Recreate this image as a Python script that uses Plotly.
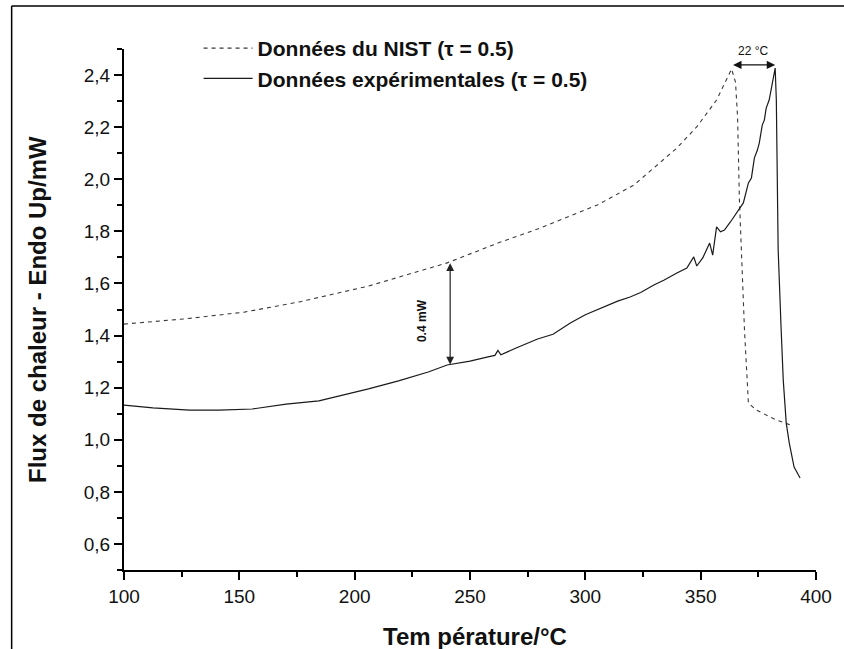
import numpy as np
import plotly.graph_objects as go

# ---- data ----
nist_T = [100, 126.3, 152.2, 175.9, 206.0, 240.1, 262.1, 279.3, 305.2, 321.1, 339.7,
          348.3, 356.9, 363.4, 365.1, 366.0, 366.8, 367.7, 369.0, 370.7, 374.1, 382.8, 390.1]
nist_flux = [1.444, 1.464, 1.490, 1.529, 1.590, 1.679, 1.755, 1.809, 1.901, 1.978, 2.120,
             2.201, 2.304, 2.423, 2.373, 2.239, 1.920, 1.728, 1.421, 1.141, 1.114, 1.076, 1.053]

exp_T = [100, 112.5, 128.4, 141.4, 155.6, 170.3, 184.5, 198.7, 206.0, 219.0, 231.9, 240.1,
         250.0, 257.8, 260.8, 262.1, 263.4, 270.0, 279.3, 286.0, 293.5, 300.0, 308.2, 314.0,
         319.4, 324.0, 329.7, 334.0, 339.7, 344.0, 347.0, 348.3, 350.9, 352.6, 353.9, 355.2,
         356.9, 358.6, 360.3, 362.9, 365.5, 368.5, 370.7, 372.0, 373.3, 374.6, 375.4, 376.7,
         377.6, 378.4, 379.7, 380.6, 381.5, 382.3, 382.8, 383.6, 384.9, 385.8, 387.1, 388.4,
         390.5, 393.1]
exp_flux = [1.133, 1.122, 1.114, 1.114, 1.118, 1.137, 1.149, 1.179, 1.195, 1.226, 1.260, 1.287,
            1.302, 1.318, 1.324, 1.343, 1.326, 1.352, 1.387, 1.405, 1.448, 1.480, 1.510, 1.532,
            1.548, 1.565, 1.594, 1.612, 1.640, 1.659, 1.702, 1.667, 1.698, 1.728, 1.755, 1.709,
            1.817, 1.798, 1.805, 1.836, 1.870, 1.909, 1.986, 2.005, 2.082, 2.112, 2.139, 2.208,
            2.227, 2.273, 2.304, 2.350, 2.389, 2.427, 2.304, 1.728, 1.421, 1.229, 1.064, 0.988,
            0.895, 0.853]

x_ticks = [100, 150, 200, 250, 300, 350, 400]
y_ticks = [0.6, 0.8, 1.0, 1.2, 1.4, 1.6, 1.8, 2.0, 2.2, 2.4]

name_nist = "Données du NIST (τ = 0.5)"
name_exp = "Données expérimentales (τ = 0.5)"
x_title = "Tem pérature/°C"
y_title = "Flux de chaleur - Endo Up/mW"
shift_label = "22 °C"
gap_label = "0.4 mW"
gap_T = 241.4  # temperature where the 0.4 mW gap arrow is drawn

FONT = "Liberation Sans, Arial, sans-serif"

fig = go.Figure()
fig.add_trace(go.Scatter(x=nist_T, y=nist_flux, mode="lines", name=name_nist,
                         line=dict(color="#3a3a3a", width=1.1, dash="4px,4px")))
fig.add_trace(go.Scatter(x=exp_T, y=exp_flux, mode="lines", name=name_exp,
                         line=dict(color="#1a1a1a", width=1.2)))

# peak positions from the data
i_n = int(np.argmax(nist_flux))
i_e = int(np.argmax(exp_flux))
peak_y = max(nist_flux[i_n], exp_flux[i_e]) + 0.012

# 22 °C double arrow
fig.add_annotation(x=exp_T[i_e], y=peak_y, ax=nist_T[i_n], ay=peak_y,
                   xref="x", yref="y", axref="x", ayref="y", text="",
                   showarrow=True, arrowside="end+start", arrowhead=2, startarrowhead=2,
                   arrowsize=1.3, startarrowsize=1.3, arrowwidth=1.3, arrowcolor="#111",
                   standoff=0, startstandoff=0)
fig.add_annotation(x=(exp_T[i_e] + nist_T[i_n]) / 2, y=peak_y, yshift=14, xref="x", yref="y",
                   text=shift_label, showarrow=False,
                   font=dict(family=FONT, size=12, color="#111"))

# 0.4 mW double arrow
top_v = float(np.interp(gap_T, nist_T, nist_flux))
bot_v = float(np.interp(gap_T, exp_T, exp_flux))
fig.add_annotation(x=gap_T, y=bot_v, ax=gap_T, ay=top_v,
                   xref="x", yref="y", axref="x", ayref="y", text="",
                   showarrow=True, arrowside="end+start", arrowhead=2, startarrowhead=2,
                   arrowsize=1.3, startarrowsize=1.3, arrowwidth=1.2, arrowcolor="#222",
                   standoff=0, startstandoff=0)
fig.add_annotation(x=gap_T, xshift=-28, y=(top_v + bot_v) / 2 - 0.03, xref="x", yref="y",
                   text=gap_label, textangle=-90, showarrow=False,
                   font=dict(family=FONT, size=12, color="#111", weight="bold"))

# axis titles as annotations
fig.add_annotation(x=(477 - 124) / 696, y=(570 - 636) / 521, xref="paper", yref="paper",
                   text=x_title, showarrow=False, xanchor="center", yanchor="middle",
                   font=dict(family=FONT, size=24, color="#111", weight="bold"))
fig.add_annotation(x=(37 - 124) / 696, y=0.5, xref="paper", yref="paper",
                   text=y_title, textangle=-90, showarrow=False, xanchor="center", yanchor="middle",
                   font=dict(family=FONT, size=24, color="#111", weight="bold"))

# outer frame (only top and left edges are visible in the picture)
frame_left = (11 - 124) / 696
frame_top = (570 - 6) / 521
fig.add_shape(type="line", xref="paper", yref="paper",
              x0=frame_left, x1=1.2, y0=frame_top, y1=frame_top,
              line=dict(color="black", width=1.5), layer="below")
fig.add_shape(type="line", xref="paper", yref="paper",
              x0=frame_left, x1=frame_left, y0=-0.4, y1=frame_top,
              line=dict(color="black", width=1.5), layer="below")

axis_common = dict(showline=True, linecolor="black", linewidth=2, ticks="outside",
                   ticklen=8, tickwidth=1.5, tickcolor="black", showgrid=False, zeroline=False,
                   mirror=False, tickfont=dict(family=FONT, size=19, color="#111"))

fig.update_xaxes(range=[100, 400], tickmode="array", tickvals=x_ticks,
                 ticktext=[str(v) for v in x_ticks],
                 minor=dict(ticks="outside", ticklen=5, tickwidth=1.5, dtick=25, tick0=100,
                            tickcolor="black", showgrid=False),
                 **axis_common)
fig.update_yaxes(range=[0.5, 2.5], tickmode="array", tickvals=y_ticks,
                 ticktext=[f"{v:.1f}".replace(".", ",") for v in y_ticks],
                 minor=dict(ticks="outside", ticklen=5, tickwidth=1.5, dtick=0.1, tick0=0.5,
                            tickcolor="black", showgrid=False),
                 **axis_common)

fig.update_layout(
    width=844, height=649, autosize=False,
    margin=dict(l=124, r=24, t=49, b=79),
    plot_bgcolor="white", paper_bgcolor="white",
    showlegend=True,
    legend=dict(x=(199 - 124) / 696, y=(570 - 28) / 521, xanchor="left", yanchor="top",
                bgcolor="rgba(0,0,0,0)", borderwidth=0, itemwidth=49, tracegroupgap=0,
                font=dict(family=FONT, size=21, color="#111", weight="bold")),
)

fig.write_html("out.html", config={"displayModeBar": False},
               post_script="document.body.style.margin='0px';document.body.style.overflow='hidden';")
